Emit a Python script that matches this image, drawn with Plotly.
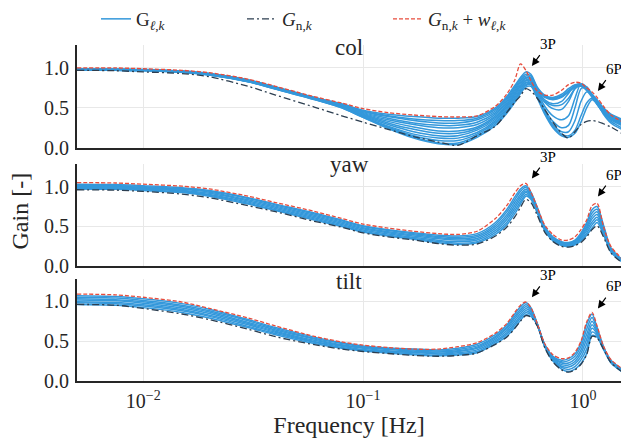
import numpy as np
import plotly.graph_objects as go
from plotly.subplots import make_subplots

# Frequency grid [Hz]
freq = [0.005, 0.0075, 0.01, 0.015, 0.02, 0.03, 0.04, 0.06, 0.08, 0.1,
        0.13, 0.17, 0.22, 0.27, 0.33, 0.4, 0.45, 0.49, 0.52, 0.55,
        0.58, 0.62, 0.67, 0.73, 0.8, 0.86, 0.92, 0.98, 1.04, 1.1,
        1.16, 1.24, 1.34, 1.5]

# ---- collective channel ----
col_nominal = [0.97, 0.965, 0.95, 0.93, 0.89, 0.77, 0.66, 0.51, 0.40, 0.32,
               0.23, 0.14, 0.07, 0.03, 0.15, 0.27, 0.44, 0.57, 0.65, 0.74,
               0.71, 0.62, 0.48, 0.32, 0.18, 0.12, 0.20, 0.29, 0.33, 0.34,
               0.33, 0.30, 0.26, 0.18]
col_bound = [1.00, 1.00, 0.99, 0.97, 0.94, 0.86, 0.77, 0.64, 0.56, 0.49,
             0.44, 0.41, 0.39, 0.385, 0.40, 0.52, 0.67, 0.85, 1.05, 0.97,
             0.84, 0.71, 0.66, 0.66, 0.72, 0.79, 0.82, 0.81, 0.75, 0.70,
             0.63, 0.52, 0.41, 0.33]
col_variants = [
    [0.99, 0.985, 0.98, 0.96, 0.93, 0.85, 0.76, 0.63, 0.55, 0.47, 0.42, 0.39, 0.37, 0.37, 0.39, 0.50, 0.64, 0.78, 0.88, 0.95, 0.92, 0.76, 0.66, 0.63, 0.67, 0.74, 0.79, 0.79, 0.74, 0.67, 0.60, 0.50, 0.42, 0.36],
    [0.99, 0.985, 0.98, 0.96, 0.93, 0.85, 0.76, 0.63, 0.54, 0.46, 0.40, 0.36, 0.34, 0.34, 0.37, 0.48, 0.62, 0.76, 0.86, 0.92, 0.90, 0.75, 0.65, 0.62, 0.65, 0.72, 0.77, 0.78, 0.74, 0.67, 0.59, 0.49, 0.41, 0.35],
    [0.985, 0.98, 0.975, 0.955, 0.925, 0.845, 0.755, 0.625, 0.54, 0.45, 0.39, 0.34, 0.31, 0.31, 0.35, 0.46, 0.60, 0.74, 0.84, 0.90, 0.88, 0.72, 0.60, 0.55, 0.58, 0.68, 0.78, 0.80, 0.74, 0.65, 0.57, 0.47, 0.39, 0.33],
    [0.985, 0.98, 0.975, 0.955, 0.925, 0.845, 0.755, 0.625, 0.53, 0.44, 0.37, 0.31, 0.28, 0.28, 0.32, 0.44, 0.58, 0.72, 0.82, 0.88, 0.87, 0.74, 0.64, 0.61, 0.64, 0.70, 0.76, 0.77, 0.73, 0.66, 0.58, 0.48, 0.40, 0.34],
    [0.985, 0.98, 0.975, 0.955, 0.925, 0.84, 0.75, 0.62, 0.53, 0.43, 0.35, 0.29, 0.25, 0.25, 0.29, 0.42, 0.56, 0.70, 0.80, 0.87, 0.86, 0.70, 0.52, 0.40, 0.35, 0.40, 0.62, 0.80, 0.76, 0.66, 0.56, 0.46, 0.38, 0.31],
    [0.985, 0.98, 0.975, 0.955, 0.92, 0.84, 0.75, 0.62, 0.52, 0.42, 0.33, 0.26, 0.21, 0.21, 0.26, 0.40, 0.54, 0.68, 0.78, 0.85, 0.84, 0.70, 0.57, 0.49, 0.48, 0.58, 0.74, 0.79, 0.74, 0.65, 0.56, 0.46, 0.38, 0.32],
    [0.98, 0.975, 0.97, 0.95, 0.92, 0.835, 0.745, 0.615, 0.52, 0.41, 0.31, 0.23, 0.18, 0.18, 0.24, 0.38, 0.53, 0.67, 0.77, 0.84, 0.83, 0.67, 0.48, 0.33, 0.25, 0.28, 0.50, 0.74, 0.76, 0.66, 0.55, 0.45, 0.37, 0.30],
    [0.98, 0.975, 0.97, 0.95, 0.92, 0.835, 0.745, 0.615, 0.52, 0.40, 0.29, 0.20, 0.15, 0.15, 0.22, 0.36, 0.51, 0.65, 0.75, 0.82, 0.82, 0.72, 0.63, 0.60, 0.63, 0.70, 0.76, 0.77, 0.72, 0.65, 0.57, 0.47, 0.39, 0.33],
    [0.98, 0.975, 0.97, 0.95, 0.915, 0.83, 0.74, 0.61, 0.51, 0.39, 0.27, 0.17, 0.12, 0.12, 0.19, 0.34, 0.49, 0.63, 0.73, 0.81, 0.81, 0.66, 0.46, 0.29, 0.20, 0.20, 0.34, 0.58, 0.70, 0.66, 0.55, 0.44, 0.35, 0.28],
    [0.98, 0.975, 0.97, 0.95, 0.915, 0.83, 0.74, 0.61, 0.51, 0.39, 0.26, 0.15, 0.09, 0.09, 0.17, 0.32, 0.47, 0.61, 0.71, 0.79, 0.80, 0.69, 0.58, 0.53, 0.54, 0.62, 0.74, 0.78, 0.72, 0.63, 0.54, 0.44, 0.36, 0.29],
    [0.975, 0.97, 0.965, 0.945, 0.91, 0.825, 0.735, 0.605, 0.50, 0.38, 0.25, 0.13, 0.06, 0.06, 0.15, 0.30, 0.45, 0.59, 0.70, 0.78, 0.79, 0.64, 0.44, 0.27, 0.17, 0.15, 0.22, 0.40, 0.56, 0.62, 0.55, 0.43, 0.33, 0.25],
    [0.975, 0.97, 0.965, 0.945, 0.91, 0.825, 0.735, 0.605, 0.50, 0.38, 0.24, 0.12, 0.05, 0.04, 0.13, 0.28, 0.43, 0.57, 0.68, 0.76, 0.77, 0.62, 0.42, 0.25, 0.15, 0.13, 0.18, 0.32, 0.50, 0.60, 0.55, 0.42, 0.31, 0.23],
]

# ---- yaw channel ----
yaw_nominal = [0.96, 0.955, 0.94, 0.905, 0.86, 0.76, 0.685, 0.565, 0.49, 0.42,
               0.37, 0.33, 0.285, 0.265, 0.28, 0.38, 0.49, 0.62, 0.74, 0.84,
               0.80, 0.64, 0.43, 0.31, 0.25, 0.24, 0.26, 0.30, 0.37, 0.46,
               0.51, 0.37, 0.17, 0.05]
yaw_bound = [1.05, 1.045, 1.03, 1.005, 0.97, 0.88, 0.80, 0.69, 0.60, 0.53,
             0.48, 0.44, 0.41, 0.40, 0.44, 0.60, 0.76, 0.92, 1.01, 1.04,
             0.93, 0.74, 0.52, 0.40, 0.33, 0.33, 0.37, 0.46, 0.58, 0.76,
             0.79, 0.50, 0.25, 0.10]
# one row per frequency, one column per model variant
yaw_band = [
    [1.03, 1.02, 1.01, 1.00, 0.99, 0.98, 0.97],
    [1.025, 1.015, 1.005, 0.995, 0.985, 0.975, 0.965],
    [1.01, 1.00, 0.99, 0.98, 0.97, 0.96, 0.95],
    [0.985, 0.975, 0.965, 0.955, 0.945, 0.935, 0.925],
    [0.95, 0.94, 0.93, 0.915, 0.90, 0.89, 0.88],
    [0.86, 0.85, 0.835, 0.82, 0.805, 0.79, 0.78],
    [0.78, 0.77, 0.755, 0.74, 0.725, 0.71, 0.70],
    [0.67, 0.655, 0.64, 0.625, 0.61, 0.595, 0.58],
    [0.58, 0.57, 0.555, 0.54, 0.525, 0.51, 0.50],
    [0.51, 0.50, 0.485, 0.47, 0.455, 0.44, 0.43],
    [0.46, 0.45, 0.435, 0.42, 0.405, 0.39, 0.38],
    [0.42, 0.41, 0.395, 0.38, 0.365, 0.35, 0.34],
    [0.39, 0.375, 0.36, 0.345, 0.325, 0.31, 0.295],
    [0.38, 0.365, 0.345, 0.33, 0.31, 0.29, 0.275],
    [0.41, 0.39, 0.37, 0.35, 0.33, 0.31, 0.295],
    [0.55, 0.525, 0.50, 0.475, 0.45, 0.425, 0.40],
    [0.71, 0.68, 0.645, 0.615, 0.585, 0.55, 0.52],
    [0.87, 0.835, 0.80, 0.765, 0.73, 0.695, 0.66],
    [0.97, 0.94, 0.905, 0.875, 0.845, 0.81, 0.78],
    [1.01, 0.99, 0.965, 0.945, 0.925, 0.90, 0.88],
    [0.93, 0.915, 0.90, 0.885, 0.87, 0.855, 0.84],
    [0.74, 0.73, 0.715, 0.705, 0.69, 0.68, 0.67],
    [0.50, 0.49, 0.48, 0.475, 0.465, 0.455, 0.45],
    [0.37, 0.36, 0.355, 0.345, 0.335, 0.33, 0.32],
    [0.31, 0.30, 0.295, 0.285, 0.275, 0.27, 0.26],
    [0.30, 0.29, 0.285, 0.275, 0.265, 0.26, 0.25],
    [0.33, 0.32, 0.31, 0.30, 0.29, 0.28, 0.27],
    [0.42, 0.40, 0.385, 0.37, 0.355, 0.335, 0.32],
    [0.55, 0.525, 0.495, 0.47, 0.445, 0.415, 0.39],
    [0.71, 0.67, 0.63, 0.595, 0.555, 0.52, 0.48],
    [0.75, 0.715, 0.685, 0.65, 0.615, 0.585, 0.55],
    [0.52, 0.50, 0.48, 0.46, 0.44, 0.42, 0.40],
    [0.23, 0.22, 0.215, 0.205, 0.195, 0.19, 0.18],
    [0.09, 0.085, 0.08, 0.075, 0.07, 0.065, 0.06],
]

# ---- tilt channel ----
tilt_nominal = [0.96, 0.95, 0.91, 0.84, 0.77, 0.65, 0.555, 0.455, 0.40, 0.37,
                0.345, 0.32, 0.31, 0.32, 0.35, 0.46, 0.55, 0.66, 0.75, 0.82,
                0.80, 0.69, 0.42, 0.24, 0.14, 0.11, 0.14, 0.21, 0.33, 0.56,
                0.54, 0.40, 0.23, 0.12]
tilt_bound = [1.09, 1.08, 1.05, 0.99, 0.91, 0.79, 0.69, 0.56, 0.49, 0.45,
              0.42, 0.40, 0.40, 0.43, 0.48, 0.60, 0.72, 0.86, 0.95, 0.99,
              0.92, 0.72, 0.47, 0.33, 0.28, 0.29, 0.36, 0.50, 0.74, 0.86,
              0.69, 0.44, 0.27, 0.16]
tilt_band = [
    [1.07, 1.05, 1.03, 1.015, 0.995, 0.98, 0.96],
    [1.06, 1.04, 1.02, 1.005, 0.985, 0.97, 0.95],
    [1.03, 1.01, 0.995, 0.975, 0.955, 0.94, 0.92],
    [0.97, 0.95, 0.935, 0.915, 0.895, 0.88, 0.86],
    [0.90, 0.88, 0.865, 0.845, 0.825, 0.81, 0.79],
    [0.77, 0.755, 0.735, 0.72, 0.705, 0.685, 0.67],
    [0.67, 0.655, 0.64, 0.625, 0.61, 0.595, 0.58],
    [0.55, 0.535, 0.525, 0.51, 0.495, 0.485, 0.47],
    [0.48, 0.47, 0.455, 0.445, 0.435, 0.42, 0.41],
    [0.44, 0.43, 0.42, 0.41, 0.395, 0.385, 0.375],
    [0.415, 0.405, 0.395, 0.38, 0.37, 0.36, 0.35],
    [0.40, 0.39, 0.375, 0.365, 0.355, 0.34, 0.33],
    [0.39, 0.375, 0.365, 0.35, 0.34, 0.325, 0.315],
    [0.41, 0.395, 0.38, 0.37, 0.355, 0.34, 0.325],
    [0.46, 0.44, 0.425, 0.41, 0.39, 0.37, 0.355],
    [0.58, 0.56, 0.545, 0.525, 0.505, 0.49, 0.47],
    [0.70, 0.675, 0.655, 0.63, 0.605, 0.585, 0.56],
    [0.84, 0.81, 0.785, 0.755, 0.725, 0.70, 0.67],
    [0.93, 0.90, 0.875, 0.845, 0.815, 0.79, 0.76],
    [0.98, 0.955, 0.93, 0.905, 0.88, 0.855, 0.83],
    [0.92, 0.90, 0.885, 0.865, 0.845, 0.83, 0.81],
    [0.72, 0.717, 0.713, 0.71, 0.707, 0.703, 0.70],
    [0.46, 0.455, 0.45, 0.445, 0.44, 0.435, 0.43],
    [0.31, 0.30, 0.29, 0.28, 0.27, 0.26, 0.25],
    [0.26, 0.24, 0.225, 0.205, 0.185, 0.17, 0.15],
    [0.28, 0.255, 0.225, 0.20, 0.175, 0.145, 0.12],
    [0.34, 0.31, 0.275, 0.245, 0.215, 0.18, 0.15],
    [0.48, 0.435, 0.39, 0.35, 0.305, 0.265, 0.22],
    [0.71, 0.65, 0.585, 0.525, 0.465, 0.40, 0.34],
    [0.84, 0.795, 0.75, 0.705, 0.66, 0.615, 0.57],
    [0.67, 0.65, 0.63, 0.61, 0.59, 0.57, 0.55],
    [0.43, 0.425, 0.42, 0.415, 0.41, 0.405, 0.40],
    [0.26, 0.255, 0.25, 0.245, 0.24, 0.235, 0.23],
    [0.15, 0.145, 0.14, 0.135, 0.13, 0.125, 0.12],
]

channels = ["col", "yaw", "tilt"]
# 3P / 6P marker points (frequency [Hz], gain) per channel
peak_3p = [(0.586, 1.025), (0.586, 1.10), (0.586, 1.05)]
peak_6p = [(1.17, 0.71), (1.17, 0.875), (1.17, 0.91)]

BLUE = "#3498db"
DARK = "#2c3e50"
RED = "#e74c3c"
FONT = "Liberation Serif, DejaVu Serif, serif"
TXT = "#262626"

variant_sets = [
    col_variants,
    [list(c) for c in zip(*yaw_band)],
    [list(c) for c in zip(*tilt_band)],
]
nominals = [col_nominal, yaw_nominal, tilt_nominal]
bounds = [col_bound, yaw_bound, tilt_bound]

fig = make_subplots(rows=3, cols=1, shared_xaxes=True)

for r in range(3):
    for i, curve in enumerate(variant_sets[r]):
        fig.add_trace(go.Scatter(
            x=freq, y=curve, mode="lines",
            line=dict(color=BLUE, width=1.5, shape="spline", smoothing=0.8),
            name="G<sub><i>ℓ</i>,<i>k</i></sub>", legendgroup="var",
            showlegend=(r == 0 and i == 0)), row=r + 1, col=1)
    fig.add_trace(go.Scatter(
        x=freq, y=nominals[r], mode="lines",
        line=dict(color=DARK, width=1.3, dash="7px,3px,2px,3px", shape="spline", smoothing=0.8),
        name="<i>G</i><sub>n,<i>k</i></sub>", legendgroup="nom",
        showlegend=(r == 0)), row=r + 1, col=1)
    fig.add_trace(go.Scatter(
        x=freq, y=bounds[r], mode="lines",
        line=dict(color=RED, width=1.3, dash="4px,2px", shape="spline", smoothing=0.8),
        name="<i>G</i><sub>n,<i>k</i></sub> + <i>w</i><sub><i>ℓ</i>,<i>k</i></sub>",
        legendgroup="bnd", showlegend=(r == 0)), row=r + 1, col=1)

# pixel layout helpers (plot area: x 77..621, y 44..381)
def py(p):
    return (381 - p) / 337.0

domains = [(py(147), py(44)), (py(266), py(163)), (py(381), py(279))]
yranges = [[0, 1.2875], [0, 1.2875], [0, 1.275]]

for r in range(3):
    ax = dict(type="log", range=[np.log10(0.005), np.log10(1.49)],
              showgrid=True, gridcolor="#e8e8e8", gridwidth=1,
              tickvals=[0.01, 0.1, 1],
              ticktext=["10<sup>−2</sup>", "10<sup>−1</sup>", "10<sup>0</sup>"],
              showticklabels=(r == 2), ticks="", zeroline=False,
              showline=True, linecolor="#262626", linewidth=2,
              tickfont=dict(family=FONT, size=20, color=TXT),
              ticklabelstandoff=1)
    if r == 2:
        ax["title"] = dict(text="Frequency [Hz]", font=dict(family=FONT, size=24, color=TXT), standoff=4)
    fig.update_xaxes(**ax, row=r + 1, col=1)
    fig.update_yaxes(range=yranges[r], domain=list(domains[r]),
                     tickvals=[0, 0.5, 1.0], ticktext=["0.0", "0.5", "1.0"],
                     showgrid=True, gridcolor="#e8e8e8", gridwidth=1,
                     ticks="", zeroline=False,
                     showline=True, linecolor="#262626", linewidth=2,
                     tickfont=dict(family=FONT, size=20, color=TXT),
                     ticklabelstandoff=2,
                     row=r + 1, col=1)

annotations = []
title_y = [47, 164, 281]
for r, name in enumerate(channels):
    annotations.append(dict(text=name, xref="paper", yref="paper", x=0.5, y=py(title_y[r]),
                            xanchor="center", yanchor="middle", showarrow=False,
                            font=dict(family=FONT, size=23, color=TXT)))
    xr = "x" if r == 0 else f"x{r + 1}"
    yr = "y" if r == 0 else f"y{r + 1}"
    for lab, (fx, gy) in (("3P", peak_3p[r]), ("6P", peak_6p[r])):
        annotations.append(dict(text=lab, xref=xr, yref=yr, x=np.log10(fx), y=gy,
                                ax=16, ay=-22, showarrow=True, arrowhead=2,
                                arrowsize=1.3, arrowwidth=1.2, arrowcolor="#000000",
                                standoff=0, startstandoff=2,
                                font=dict(family=FONT, size=15, color="#000000")))

annotations.append(dict(text="Gain [-]", xref="paper", yref="paper",
                        x=(20 - 77) / 544.0, y=py(211), textangle=-90,
                        xanchor="center", yanchor="middle", showarrow=False,
                        font=dict(family=FONT, size=24, color=TXT)))

fig.update_layout(
    width=621, height=442,
    margin=dict(l=77, r=0, t=44, b=61),
    paper_bgcolor="white", plot_bgcolor="white",
    annotations=annotations,
    showlegend=True,
    legend=dict(orientation="h", x=(96 - 77) / 544.0, xanchor="left",
                y=py(18), yanchor="middle",
                entrywidth=101, entrywidthmode="pixels",
                font=dict(family=FONT, size=19, color=TXT),
                bgcolor="rgba(0,0,0,0)"),
)

fig.write_html("out.html")
